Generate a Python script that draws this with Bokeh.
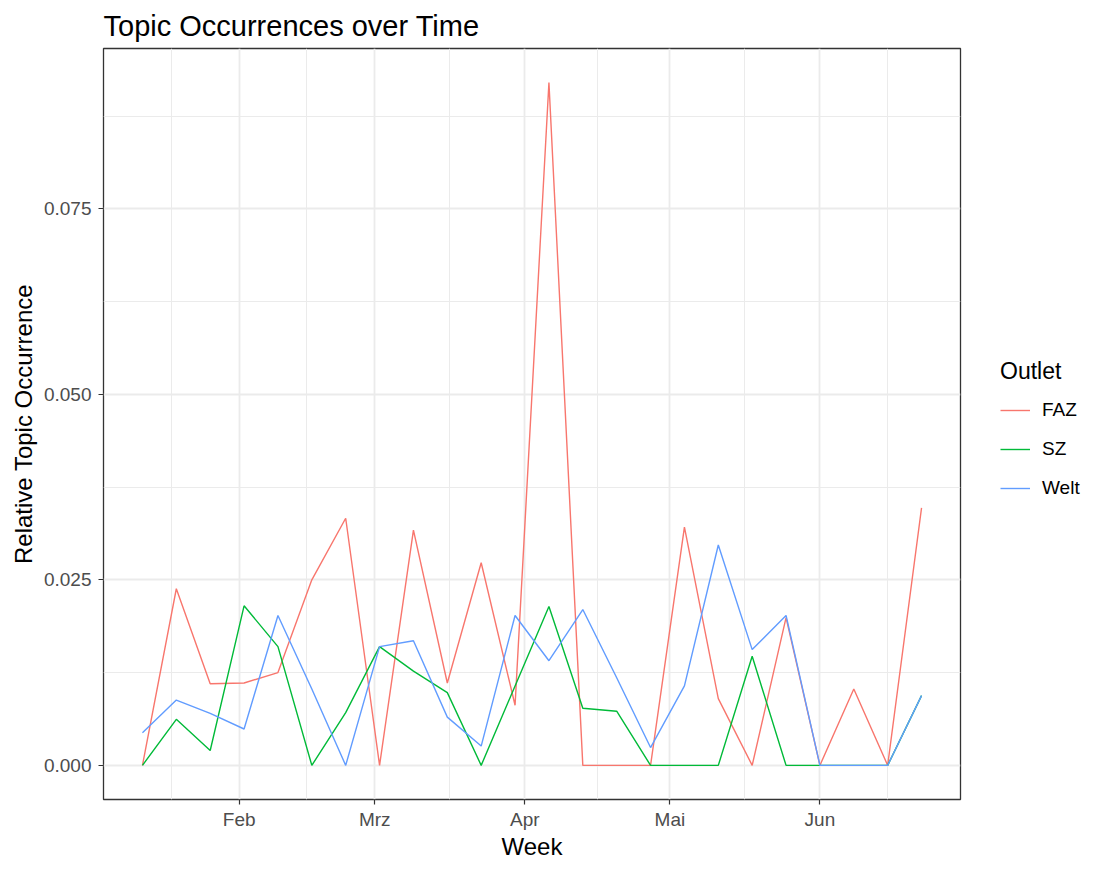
import numpy as np
from bokeh.plotting import figure
from bokeh.layouts import row
from bokeh.models import FixedTicker, Legend, LegendItem, Range1d, ColumnDataSource
from bokeh.embed import file_html
from bokeh.resources import INLINE

# ---- data ----
weeks = ["2021-01-12", "2021-01-19", "2021-01-26", "2021-02-02", "2021-02-09", "2021-02-16",
         "2021-02-23", "2021-03-02", "2021-03-09", "2021-03-16", "2021-03-23", "2021-03-30",
         "2021-04-06", "2021-04-13", "2021-04-20", "2021-04-27", "2021-05-04", "2021-05-11",
         "2021-05-18", "2021-05-25", "2021-06-01", "2021-06-08", "2021-06-15", "2021-06-22"]

faz = [0.0, 0.0238, 0.0110, 0.0111, 0.0125, 0.0250, 0.0333, 0.0, 0.0317, 0.0111, 0.0273, 0.0081,
       0.0920, 0.0, 0.0, 0.0, 0.0321, 0.0090, 0.0, 0.0199, 0.0, 0.0103, 0.0, 0.0347]
sz = [0.0, 0.0062, 0.0020, 0.0215, 0.0160, 0.0, 0.0071, 0.0160, 0.0127, 0.0098, 0.0, 0.0107,
      0.0214, 0.0077, 0.0073, 0.0, 0.0, 0.0, 0.0147, 0.0, 0.0, 0.0, 0.0, 0.0094]
welt = [0.0044, 0.0088, 0.0070, 0.0049, 0.0202, 0.0103, 0.0, 0.0160, 0.0168, 0.0065, 0.0026, 0.0202,
        0.0141, 0.0210, 0.0118, 0.0024, 0.0107, 0.0297, 0.0156, 0.0202, 0.0, 0.0, 0.0, 0.0094]

outlets = ["FAZ", "SZ", "Welt"]
colors = ["#F8766D", "#00BA38", "#619CFF"]

x_tick_dates = ["2021-02-01", "2021-03-01", "2021-04-01", "2021-05-01", "2021-06-01"]
x_tick_labels = ["Feb", "Mrz", "Apr", "Mai", "Jun"]
y_ticks = [0.0, 0.025, 0.05, 0.075]
y_tick_labels = ["0.000", "0.025", "0.050", "0.075"]

FONT = "Liberation Sans"
H = 862

# ---- derived ----
x = np.array(weeks, dtype="datetime64[ms]")
xms = x.astype("int64").astype(float)
pad_x = 0.05 * (xms.max() - xms.min())
all_y = np.array(faz + sz + welt)
pad_y = 0.05 * (all_y.max() - all_y.min())

x_major = np.array(x_tick_dates, dtype="datetime64[ms]").astype("int64").astype(float)
step = x_major[1] - x_major[0]
ext = np.concatenate([[x_major[0] - step], x_major, [x_major[-1] + step]])
x_minor = list((ext[:-1] + ext[1:]) / 2)
x_major = list(x_major)
y_step = y_ticks[1] - y_ticks[0]
y_minor = [t + y_step / 2 for t in y_ticks]

p = figure(width=970, height=H, x_axis_type="datetime", output_backend="svg",
           toolbar_location=None,
           x_range=Range1d(xms.min() - pad_x, xms.max() + pad_x),
           y_range=Range1d(all_y.min() - pad_y, all_y.max() + pad_y),
           min_border_left=103, min_border_right=10, min_border_top=48, min_border_bottom=58)

p.title.text = "Topic Occurrences over Time"
p.title.text_font = FONT
p.title.text_font_size = "29px"
p.title.text_font_style = "normal"
p.title.text_color = "black"
p.title.align = "left"
p.title.offset = 0
p.title.standoff = 13

p.background_fill_color = "white"
p.border_fill_color = "white"
p.outline_line_color = "#333333"
p.outline_line_width = 1.3

xt = FixedTicker(ticks=x_major, minor_ticks=x_minor)
yt = FixedTicker(ticks=y_ticks, minor_ticks=y_minor)
p.xaxis.ticker = xt
p.yaxis.ticker = yt
p.xgrid.ticker = xt
p.ygrid.ticker = yt
p.xaxis.major_label_overrides = {t: l for t, l in zip(x_major, x_tick_labels)}
p.yaxis.major_label_overrides = {t: l for t, l in zip(y_ticks, y_tick_labels)}

for g in (p.xgrid[0], p.ygrid[0]):
    g.grid_line_color = "#EBEBEB"
    g.grid_line_width = 1.8
    g.minor_grid_line_color = "#EBEBEB"
    g.minor_grid_line_width = 1.0

for ax in (p.xaxis[0], p.yaxis[0]):
    ax.axis_line_color = None
    ax.major_tick_line_color = "#333333"
    ax.major_tick_line_width = 1.2
    ax.major_tick_out = 5
    ax.major_tick_in = 0
    ax.minor_tick_line_color = None
    ax.major_label_text_font = FONT
    ax.major_label_text_font_size = "19px"
    ax.major_label_text_color = "#4D4D4D"
    ax.axis_label_text_font = FONT
    ax.axis_label_text_font_size = "24px"
    ax.axis_label_text_font_style = "normal"
    ax.axis_label_text_color = "black"

p.xaxis.axis_label = "Week"
p.yaxis.axis_label = "Relative Topic Occurrence"
p.xaxis.major_label_standoff = 4
p.xaxis.axis_label_standoff = 0
p.yaxis.major_label_standoff = 7
p.yaxis.axis_label_standoff = 4

sources = []
for name, vals, col in zip(outlets, [faz, sz, welt], colors):
    src = ColumnDataSource(dict(x=x, y=vals))
    sources.append(src)
    p.line("x", "y", source=src, line_color=col, line_width=1.4)

# ---- legend panel (separate, axis-free figure to the right) ----
# same series drawn here, but outside this figure's visible ranges,
# so that only the legend keys show
p2 = figure(width=112, height=H, output_backend="svg", toolbar_location=None,
            x_axis_type=None, y_axis_type=None, min_border=0,
            x_range=Range1d(0, 1), y_range=Range1d(0, 1))
p2.outline_line_color = None
p2.background_fill_color = "white"
p2.border_fill_color = "white"
items = []
for name, col, src in zip(outlets, colors, sources):
    r = p2.line("x", "y", source=src, line_color=col, line_width=1.4)
    items.append(LegendItem(label=name, renderers=[r]))

legend = Legend(items=items, location=(30, 300), title="Outlet")
legend.title_text_font = FONT
legend.title_text_font_size = "23px"
legend.title_text_font_style = "normal"
legend.title_text_color = "black"
legend.title_standoff = 14
legend.label_text_font = FONT
legend.label_text_font_size = "19px"
legend.label_text_color = "black"
legend.glyph_width = 30
legend.glyph_height = 20
legend.label_height = 20
legend.label_standoff = 12
legend.spacing = 17
legend.padding = 0
legend.margin = 0
legend.border_line_color = None
legend.background_fill_alpha = 0
p2.add_layout(legend)

layout = row(p, p2)
open("out.html", "w").write(file_html(layout, INLINE))
